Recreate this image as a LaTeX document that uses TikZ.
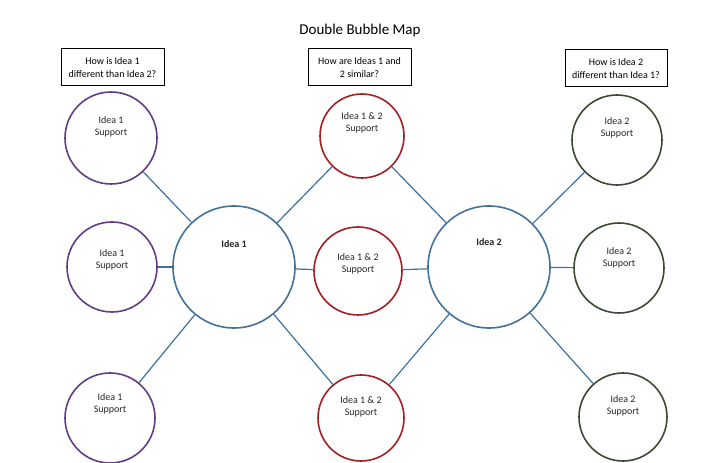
\documentclass[tikz,border=0pt]{standalone}
\usepackage{fontspec}
\setmainfont{Carlito}
\definecolor{pur}{HTML}{643C86}
\definecolor{redc}{HTML}{A31F24}
\definecolor{grn}{HTML}{3C4A32}
\definecolor{bigc}{HTML}{41719C}
\definecolor{linec}{HTML}{3A72A0}
\tikzset{
  bub/.style={circle, draw, line width=1.6pt, inner sep=0pt, minimum size=#1},
  pbub/.style={bub=#1, draw=pur},
  rbub/.style={bub=#1, draw=redc},
  gbub/.style={bub=#1, draw=grn},
  bbub/.style={bub=#1, draw=bigc},
  txt/.style={font=\fontsize{10}{12}\selectfont, align=center, inner sep=0pt, text=black!85},
  qbox/.style={draw, line width=1pt, minimum width=103pt, minimum height=37pt, inner sep=0pt, align=center, font=\fontsize{10}{13}\selectfont},
  conn/.style={draw=linec, line width=1.2pt}
}
\begin{document}
\begin{tikzpicture}[x=1pt,y=1pt]
\useasboundingbox (0,0) rectangle (720,463);
\node[font=\fontsize{15}{18}\selectfont] (title) at (360,432) {Double Bubble Map};
\node[qbox] (b1) at (112.5,395.5) {How is Idea 1\\different than Idea 2?};
\node[qbox] (b2) at (359.5,395.5) {How are Ideas 1 and\\2 similar?};
\node[qbox, minimum width=102pt] (b3) at (616,394.5) {How is Idea 2\\different than Idea 1?};
% circles
\node[pbub=92pt] (L1) at (111,325) {};
\node[pbub=90pt] (L2) at (112,196) {};
\node[pbub=90pt] (L3) at (110,45) {};
\node[bbub=122pt] (I1) at (234,196) {};
\node[rbub=84pt] (M1) at (362,327) {};
\node[rbub=88pt] (M2) at (358,192) {};
\node[rbub=86pt] (M3) at (361,45) {};
\node[bbub=122pt] (I2) at (489,196) {};
\node[gbub=90pt] (R1) at (617,323) {};
\node[gbub=90pt] (R2) at (619,195) {};
\node[gbub=88pt] (R3) at (623,46) {};
% texts
\node[txt] (tL1) at (111,336) {Idea 1\\Support};
\node[txt] (tL2) at (112,203.5) {Idea 1\\Support};
\node[txt] (tL3) at (110,59) {Idea 1\\Support};
\node[txt, font=\fontsize{10}{12}\selectfont\bfseries] (tI1) at (234,219) {Idea 1};
\node[txt] (tM1) at (362,340) {Idea 1 \& 2\\Support};
\node[txt] (tM2) at (358,199.5) {Idea 1 \& 2\\Support};
\node[txt] (tM3) at (361,56) {Idea 1 \& 2\\Support};
\node[txt, font=\fontsize{10}{12}\selectfont\bfseries] (tI2) at (489,221) {Idea 2};
\node[txt] (tR1) at (617,335) {Idea 2\\Support};
\node[txt] (tR2) at (619,205) {Idea 2\\Support};
\node[txt] (tR3) at (623,57) {Idea 2\\Support};
% connectors
\draw[conn] (L1) -- (I1);
\draw[conn] (L2) -- (I1);
\draw[conn] (L3) -- (I1);
\draw[conn] (I1) -- (M1);
\draw[conn] (I1) -- (M2);
\draw[conn] (I1) -- (M3);
\draw[conn] (M1) -- (I2);
\draw[conn] (M2) -- (I2);
\draw[conn] (M3) -- (I2);
\draw[conn] (I2) -- (R1);
\draw[conn] (I2) -- (R2);
\draw[conn] (I2) -- (R3);
\end{tikzpicture}
\end{document}
